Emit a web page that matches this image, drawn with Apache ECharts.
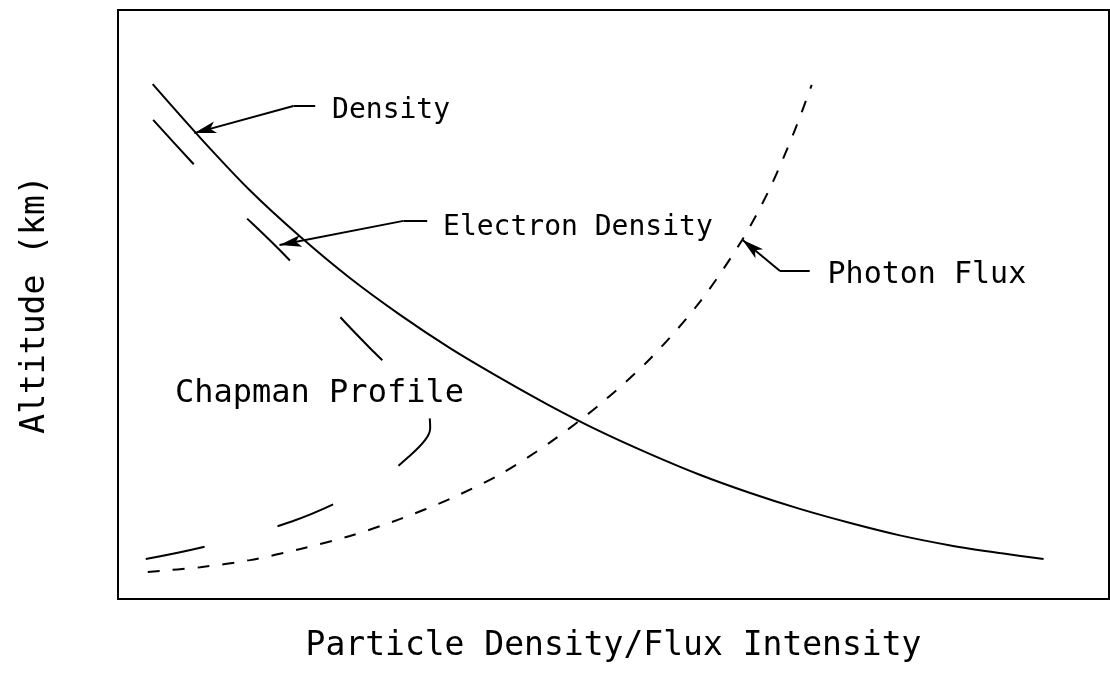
<!DOCTYPE html>
<html>
<head>
<meta charset="utf-8">
<script src="https://cdn.jsdelivr.net/npm/echarts@6/dist/echarts.min.js"></script>
<style>html,body{margin:0;padding:0;background:#fff;}#c{width:1110px;height:677px;}</style>
</head>
<body>
<div id="c"></div>
<script>
// Arbitrary units (x: 0-100 intensity, y: 0-100 altitude)
const densityX = [3.5, 8.3, 13.3, 18.4, 23.4, 28.5, 33.5, 38.6, 43.6, 48.6, 53.7, 58.7, 63.8, 68.8, 73.9, 78.9, 84.0, 89.0, 93.4];
const densityY = [87.4, 78.3, 69.4, 61.5, 54.5, 48.2, 42.6, 37.5, 32.8, 28.5, 24.6, 21.1, 18.0, 15.3, 12.9, 10.8, 9.1, 7.8, 6.8];

const photonX = [3.0, 8.3, 13.3, 18.4, 23.4, 28.5, 33.5, 38.6, 43.6, 48.6, 53.7, 58.7, 63.0, 65.8, 68.3, 70.0];
const photonY = [4.6, 5.4, 6.6, 8.5, 10.7, 13.6, 17.0, 21.2, 26.6, 33.0, 40.8, 50.4, 61.0, 69.8, 79.6, 87.3];

const chapmanX = [2.8, 9.5, 17.6, 22.4, 26.4, 29.3, 31.0, 31.5, 31.3, 29.0, 25.9, 22.4, 17.1, 10.3, 3.3];
const chapmanY = [6.8, 9.2, 13.2, 16.6, 20.2, 24.1, 27.0, 29.0, 31.6, 36.7, 41.8, 47.9, 57.9, 69.1, 81.8];

const labelTexts = ['Density', 'Electron Density', 'Photon Flux', 'Chapman Profile'];
const labelX = [21.6, 32.8, 71.6, 5.75];
const labelY = [82.9, 63.0, 55.0, 34.8];
const labelSizes = [28, 28, 30, 32];

// Leader lines: [start, bend, arrow tip]
const leaderX = [[19.9, 17.7, 7.7], [31.2, 28.8, 16.3], [69.8, 66.8, 63.0]];
const leaderY = [[83.7, 83.7, 79.1], [64.2, 64.2, 60.1], [55.7, 55.7, 61.0]];

const xTitle = 'Particle Density/Flux Intensity';
const yTitle = 'Altitude (km)';

const zip = (a, b) => a.map((v, i) => [v, b[i]]);
const FONT = 'DejaVu Sans Mono';

const markLineData = [];
leaderX.forEach((lx, i) => {
  const ly = leaderY[i];
  markLineData.push([{coord: [lx[0], ly[0]], symbol: 'none'}, {coord: [lx[1], ly[1]], symbol: 'none'}]);
  markLineData.push([{coord: [lx[1], ly[1]], symbol: 'none'}, {coord: [lx[2], ly[2]], symbol: 'arrow'}]);
});

const chart = echarts.init(document.getElementById('c'), null, {renderer: 'canvas'});
chart.setOption({
  animation: false,
  backgroundColor: '#fff',
  grid: {left: 118, right: 1, top: 10, bottom: 78, show: true, borderColor: '#000', borderWidth: 2, backgroundColor: 'transparent'},
  xAxis: {
    type: 'value', min: 0, max: 100,
    axisLine: {show: false}, axisTick: {show: false}, axisLabel: {show: false}, splitLine: {show: false},
    name: xTitle, nameLocation: 'middle', nameGap: 31,
    nameTextStyle: {fontFamily: FONT, fontSize: 33, color: '#000'}
  },
  yAxis: {
    type: 'value', min: 0, max: 100,
    axisLine: {show: false}, axisTick: {show: false}, axisLabel: {show: false}, splitLine: {show: false},
    name: yTitle, nameLocation: 'middle', nameGap: 66,
    nameTextStyle: {fontFamily: FONT, fontSize: 33, color: '#000'}
  },
  series: [
    {
      name: 'Density', type: 'line', data: zip(densityX, densityY), smooth: 0.3, showSymbol: false,
      lineStyle: {color: '#000', width: 2}
    },
    {
      name: 'Photon Flux', type: 'line', data: zip(photonX, photonY), smooth: 0.3, showSymbol: false,
      lineStyle: {color: '#000', width: 2, type: [12, 13]}
    },
    {
      name: 'Chapman Profile', type: 'line', data: zip(chapmanX, chapmanY), smooth: 0.4, showSymbol: false,
      lineStyle: {color: '#000', width: 2, type: [60, 76]}
    },
    {
      name: 'leaders', type: 'line', data: [],
      markLine: {
        silent: true, symbolSize: [9, 22], precision: 4,
        lineStyle: {color: '#000', width: 2, type: 'solid'},
        label: {show: false},
        data: markLineData
      }
    },
    {
      name: 'labels', type: 'scatter', symbolSize: 0,
      itemStyle: {opacity: 1},
      data: labelTexts.map((t, i) => ({
        value: [labelX[i], labelY[i]], name: t,
        label: {show: true, position: 'right', distance: 0, formatter: t, opacity: 1,
          fontFamily: FONT, fontSize: labelSizes[i], color: '#000'}
      }))
    }
  ]
});
</script>
</body>
</html>
